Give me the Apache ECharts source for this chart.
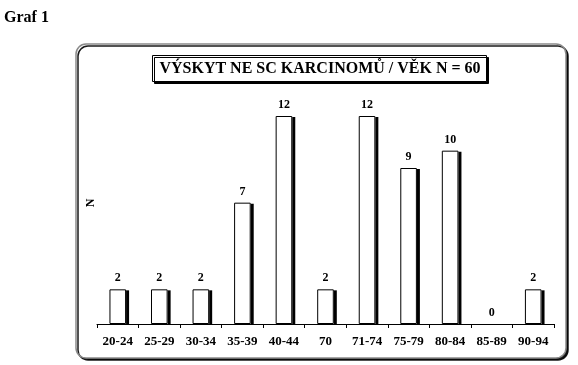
<!DOCTYPE html>
<html><head><meta charset="utf-8">
<script src="https://cdn.jsdelivr.net/npm/echarts@6/dist/echarts.min.js"></script>
<style>html,body{margin:0;padding:0;background:#fff}#c{width:578px;height:365px}</style>
</head><body><div id="c"></div>
<script>
const categories = ['20-24','25-29','30-34','35-39','40-44','70','71-74','75-79','80-84','85-89','90-94'];
const values = [2,2,2,7,12,2,12,9,10,0,2];
const titleText = 'VÝSKYT NE SC KARCINOMŮ / VĚK N = 60';
const FONT = '"Liberation Serif", "DejaVu Serif", serif';

const hideZero = v => v === 0
  ? {value:v, itemStyle:{borderWidth:0, shadowColor:'transparent', color:'transparent'}}
  : v;

const chart = echarts.init(document.getElementById('c'), null, {renderer:'canvas'});
chart.setOption({
  animation:false,
  backgroundColor:'#fff',
  graphic:[
    {type:'rect', shape:{x:76,y:44,width:490,height:314,r:10}, style:{fill:'#fff',stroke:'#8a8a8a',lineWidth:1.5,shadowColor:'rgba(0,0,0,0.9)',shadowOffsetX:2,shadowOffsetY:2,shadowBlur:0}, z:-10},
    {type:'rect', shape:{x:152.5,y:55.5,width:334,height:26}, style:{fill:'#fff',stroke:'#000',lineWidth:1,shadowColor:'#000',shadowOffsetX:2,shadowOffsetY:2,shadowBlur:0}, z:1},
    {type:'text', x:320, y:69, style:{text:titleText, font:'bold 16px '+FONT, fill:'#000', align:'center', verticalAlign:'middle'}, z:2},
    {type:'text', x:4, y:18, style:{text:'Graf 1', font:'bold 16px '+FONT, fill:'#000', align:'left', verticalAlign:'middle'}},
    {type:'text', x:91, y:203, rotation:Math.PI/2, style:{text:'N', font:'bold 12px '+FONT, fill:'#000', align:'center', verticalAlign:'middle'}}
  ],
  grid:{left:97, right:24, top:116, bottom:41, containLabel:false},
  xAxis:{
    type:'category', data:categories,
    axisLine:{show:true, lineStyle:{color:'#000', width:1}},
    axisTick:{show:true, alignWithLabel:false, length:4, lineStyle:{color:'#000'}},
    axisLabel:{color:'#000', fontFamily:FONT, fontWeight:'bold', fontSize:13, margin:11, interval:0}
  },
  yAxis:{type:'value', min:0, max:12, show:false, splitLine:{show:false}},
  series:[
    {
      type:'bar', data:values.map(hideZero), barWidth:'40%', silent:true,
      itemStyle:{color:'#fff', borderWidth:0, shadowColor:'#000', shadowOffsetX:3, shadowOffsetY:1, shadowBlur:0},
      label:{show:false}, z:1
    },
    {
      type:'bar', data:values.map(hideZero), barWidth:'40%', barGap:'-100%',
      itemStyle:{color:'#fff', borderColor:'#000', borderWidth:1},
      label:{show:true, position:'top', distance:5, color:'#000', fontFamily:FONT, fontWeight:'bold', fontSize:12}, z:2
    }
  ]
});
</script></body></html>
